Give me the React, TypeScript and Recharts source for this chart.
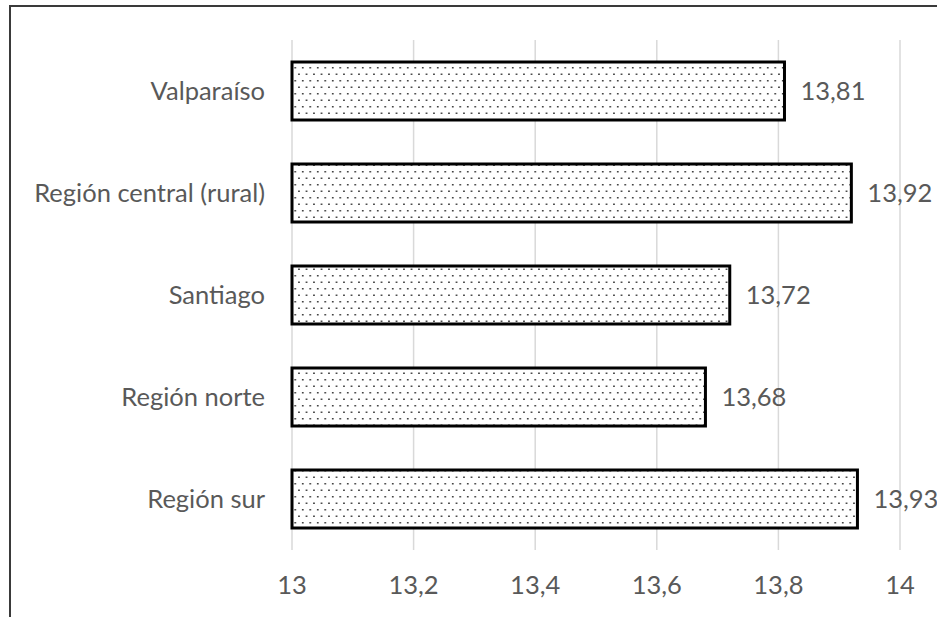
import { BarChart, Bar, XAxis, YAxis, CartesianGrid, LabelList } from 'recharts';

const regions = ['Valparaíso', 'Región central (rural)', 'Santiago', 'Región norte', 'Región sur'];
const values = [13.81, 13.92, 13.72, 13.68, 13.93];
const xTicks = [13, 13.2, 13.4, 13.6, 13.8, 14];

const data = regions.map((name, i) => ({ name, value: values[i] }));

const comma = (v: number | string) => String(v).replace('.', ',');

const textStyle = { fill: '#595959', fontSize: 25.5, fontFamily: 'Lato, sans-serif' };

export default function App() {
  return (
    <div style={{ position: 'relative', width: 937, height: 617, overflow: 'hidden', background: '#fff' }}>
      <style>{`body{margin:0}`}</style>
      {/* outer frame, cut off on the right and bottom */}
      <div
        style={{
          position: 'absolute',
          left: 9,
          top: 5,
          width: 1000,
          height: 800,
          border: '2px solid #3a3a3a',
          boxSizing: 'border-box',
        }}
      />
      <BarChart
        width={937}
        height={617}
        data={data}
        layout="vertical"
        margin={{ top: 40, right: 37, left: 12, bottom: 27 }}
        barCategoryGap="21.5%"
        style={{ position: 'absolute', left: 0, top: 0 }}
      >
        <defs>
          <pattern id="dots" width="7.5" height="13" patternUnits="userSpaceOnUse">
            <rect width="7.5" height="13" fill="#fff" />
            <rect x="2" y="2" width="1.5" height="1.5" fill="#222" />
            <rect x="5.75" y="8.5" width="1.5" height="1.5" fill="#222" />
          </pattern>
        </defs>
        <CartesianGrid horizontal={false} stroke="#d9d9d9" strokeWidth={1.5} />
        <XAxis
          type="number"
          domain={[13, 14]}
          ticks={xTicks}
          tickFormatter={comma}
          axisLine={false}
          tickLine={false}
          tickSize={6}
          tickMargin={20}
          height={40}
          tick={textStyle}
        />
        <YAxis
          type="category"
          dataKey="name"
          width={280}
          axisLine={false}
          tickLine={false}
          tickSize={6}
          tickMargin={21}
          tick={textStyle}
        />
        <Bar dataKey="value" fill="url(#dots)" stroke="#000" strokeWidth={3} isAnimationActive={false}>
          <LabelList dataKey="value" position="right" offset={16} formatter={comma} style={textStyle} />
        </Bar>
      </BarChart>
    </div>
  );
}
